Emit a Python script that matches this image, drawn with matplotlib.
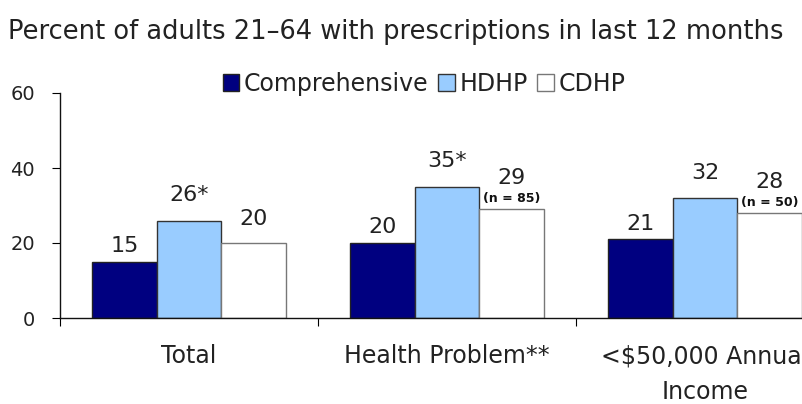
import matplotlib
matplotlib.use("Agg")
import matplotlib.pyplot as plt
import numpy as np

# data
categories = ["Total", "Health Problem**", "<$50,000 Annual\nIncome"]
series = ["Comprehensive", "HDHP", "CDHP"]
comprehensive = [15, 20, 21]
hdhp = [26, 35, 32]
cdhp = [20, 29, 28]
hdhp_marks = ["*", "*", ""]
cdhp_notes = ["", "(n = 85)", "(n = 50)"]

FONT = ["DejaVu Sans"]

colors = ["#000080", "#99CCFF", "#FFFFFF"]
edges = ["#222222", "#333333", "#777777"]

fig = plt.figure(figsize=(8.03, 4.04), dpi=100)
ax = fig.add_axes([60 / 803, 1 - 318 / 404, 774 / 803, 225 / 404])

x = np.arange(len(categories)) + 0.5
width = 0.25
values = [comprehensive, hdhp, cdhp]
for i, (name, vals) in enumerate(zip(series, values)):
    pos = x + (i - 1) * width
    ax.bar(pos, vals, width, color=colors[i], edgecolor=edges[i], linewidth=1.0,
           label=name, zorder=2)

# value labels
lab = dict(ha="center", va="bottom", fontsize=16, family=FONT, color="#222222",
           textcoords="offset points")
for j in range(len(categories)):
    ax.annotate(str(comprehensive[j]), (x[j] - width, comprehensive[j]), xytext=(0, 4), **lab)
    ax.annotate(f"{hdhp[j]}{hdhp_marks[j]}", (x[j], hdhp[j]), xytext=(0, 11), **lab)
    if cdhp_notes[j]:
        ax.annotate(cdhp_notes[j], (x[j] + width, cdhp[j]),
                    xytext=(0, 3), textcoords="offset points", ha="center", va="bottom",
                    fontsize=9, family=FONT, fontweight="bold", color="#111111")
        ax.annotate(str(cdhp[j]), (x[j] + width, cdhp[j]), xytext=(0, 15), **lab)
    else:
        ax.annotate(str(cdhp[j]), (x[j] + width, cdhp[j]), xytext=(0, 10), **lab)

ax.set_xlim(0, 3)
ax.set_ylim(0, 60)
ax.set_yticks([0, 20, 40, 60])
ax.set_yticklabels(["0", "20", "40", "60"], fontsize=14, family=FONT, color="#222222")
ax.set_xticks([0, 1, 2, 3])
ax.set_xticklabels([])
ax.set_xticks(x, minor=True)
ax.set_xticklabels(categories, minor=True, fontsize=17, family=FONT, linespacing=1.6,
                   color="#222222")
ax.tick_params(axis="x", which="minor", length=0, pad=19)
ax.tick_params(axis="x", which="major", length=6, direction="out")
ax.tick_params(axis="y", length=6, direction="out", pad=12)
for s in ["top", "right"]:
    ax.spines[s].set_visible(False)
for s in ["left", "bottom"]:
    ax.spines[s].set_color("#111111")
    ax.spines[s].set_linewidth(1.0)

fig.text(8 / 803, 1 - 32 / 404, "Percent of adults 21\u201364 with prescriptions in last 12 months",
         fontsize=18.5, family=FONT, ha="left", va="center", color="#222222")

fig.legend(loc="center", bbox_to_anchor=(424 / 803, 1 - 84 / 404), ncol=3, frameon=False,
           handlelength=0.7, handleheight=0.7, handletextpad=0.2, columnspacing=0.4,
           prop={"family": FONT, "size": 17}, labelcolor="#222222")

fig.savefig("out.png", dpi=100)
